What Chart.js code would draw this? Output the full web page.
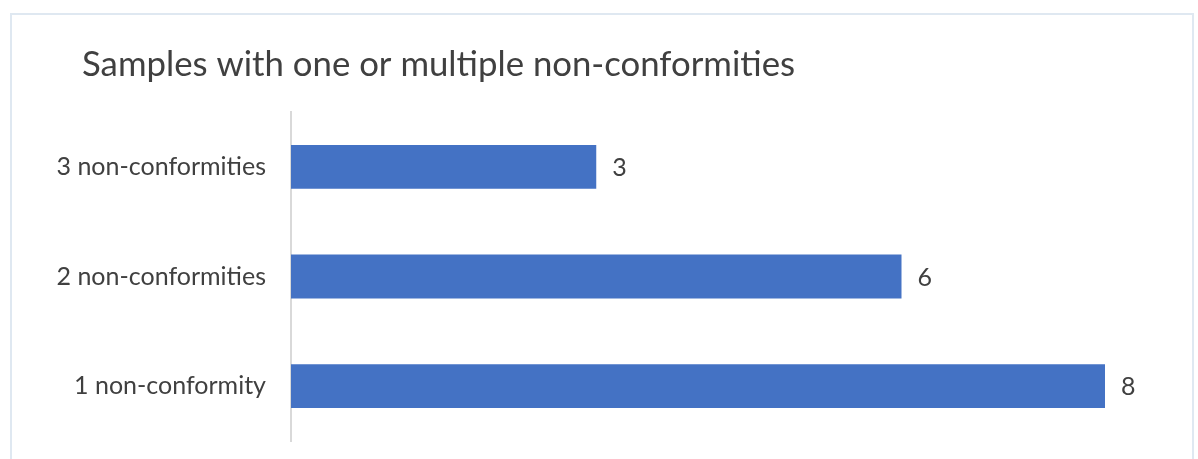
<!DOCTYPE html>
<html>
<head>
<meta charset="utf-8">
<script src="https://cdn.jsdelivr.net/npm/chart.js@4/dist/chart.umd.min.js"></script>
<style>
  html, body { margin: 0; padding: 0; background: #fff; overflow: hidden; }
  .frame {
    position: absolute; left: 10px; top: 13px; width: 1184px; height: 460px;
    border: 2px solid #dfe8f1; border-bottom: none; box-sizing: border-box;
  }
  #bar_chart { position: absolute; left: 0; top: 0; }
</style>
</head>
<body>
<div class="frame"></div>
<canvas id="bar_chart" width="1198" height="459"></canvas>
<script>
// chart data
const chartTitle = 'Samples with one or multiple non-conformities';
const categories = ['3 non-conformities', '2 non-conformities', '1 non-conformity'];
const sampleCounts = [3, 6, 8];
const axisMax = 8;

const ctx = document.getElementById('bar_chart').getContext('2d');

// title is drawn by hand so it can start further right than the tick labels
const titleText = {
  id: 'titleText',
  afterDraw(chart) {
    const c = chart.ctx;
    c.save();
    c.font = '34.75px Lato';
    c.fillStyle = '#404040';
    c.textBaseline = 'alphabetic';
    c.fillText(chartTitle, 82, 76);
    c.restore();
  },
};

// draws the value next to each bar (no datalabels plugin offline)
const valueLabels = {
  id: 'valueLabels',
  afterDatasetsDraw(chart) {
    const c = chart.ctx;
    c.save();
    c.font = '25px Lato';
    c.fillStyle = '#404040';
    c.textBaseline = 'middle';
    c.textAlign = 'left';
    chart.getDatasetMeta(0).data.forEach((bar, i) => {
      c.fillText(String(sampleCounts[i]), bar.x + 16, bar.y + 1);
    });
    c.restore();
  },
};

new Chart(ctx, {
  type: 'bar',
  data: {
    labels: categories,
    datasets: [
      {
        data: sampleCounts,
        backgroundColor: '#4472c4',
        borderWidth: 0,
        barPercentage: 0.4,
        categoryPercentage: 1,
      },
    ],
  },
  options: {
    responsive: false,
    indexAxis: 'y',
    animation: false,
    layout: { padding: { left: 20, right: 93, top: 112, bottom: 18 } },
    plugins: {
      legend: { display: false },
      tooltip: { enabled: false },
      title: { display: false },
    },
    scales: {
      x: { display: false, min: 0, max: axisMax },
      y: {
        grid: { display: false, drawTicks: false },
        border: { display: true, color: '#d9d9d9', width: 2 },
        ticks: {
          color: '#404040',
          font: { family: 'Lato', size: 25 },
          padding: 25,
        },
        afterFit(scale) {
          scale.width = 271;
          scale.paddingTop = 0;
          scale.paddingBottom = 0;
        },
      },
    },
  },
  plugins: [valueLabels, titleText],
});
</script>
</body>
</html>
